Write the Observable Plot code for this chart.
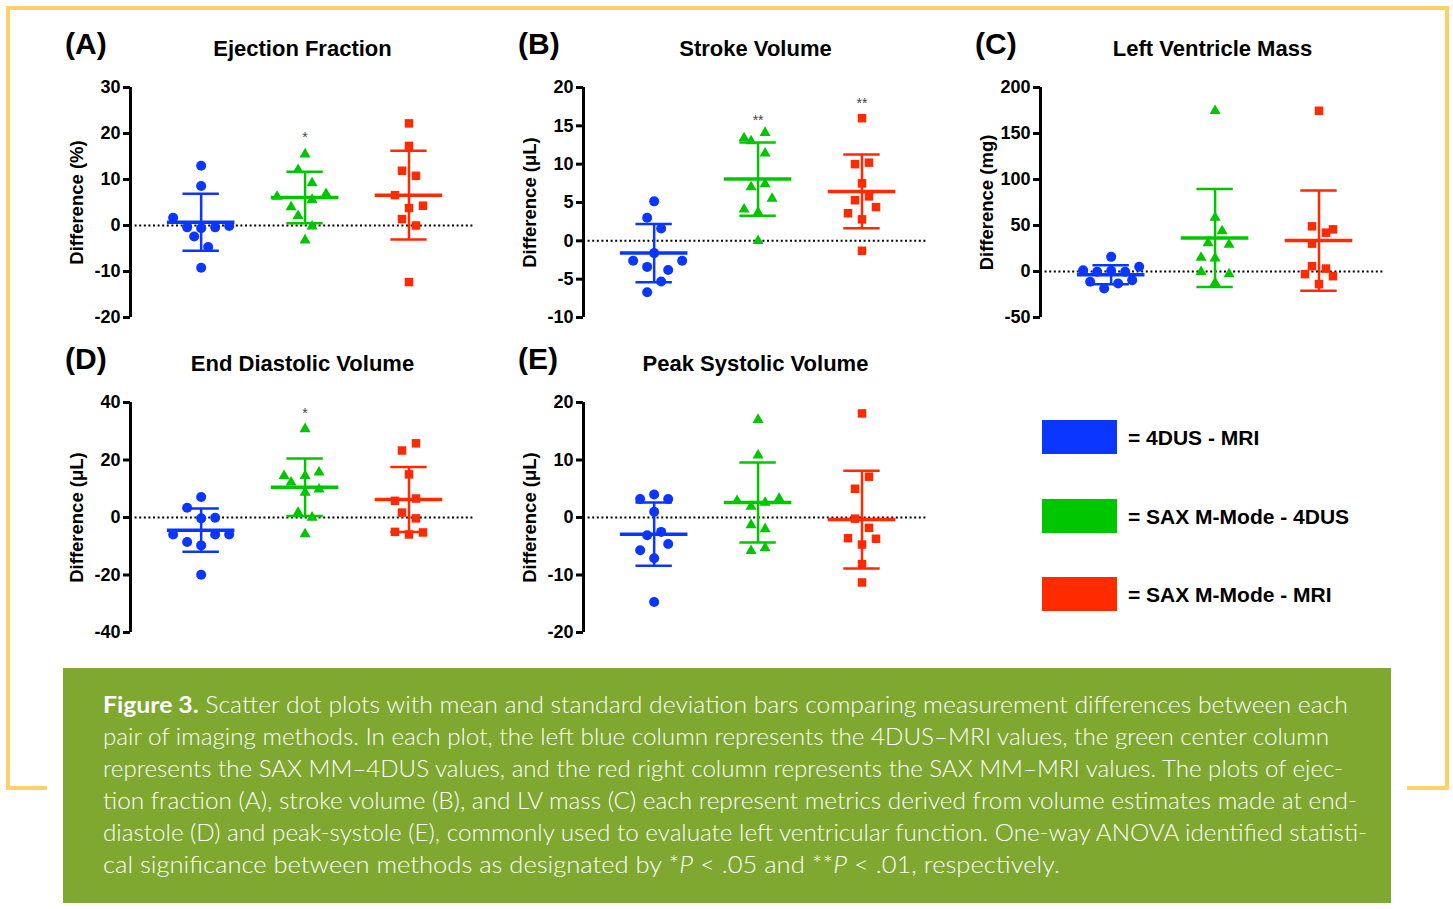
<!DOCTYPE html>
<html><head><meta charset="utf-8">
<script src="https://cdn.jsdelivr.net/npm/d3@7"></script>
<script src="https://cdn.jsdelivr.net/npm/@observablehq/plot@0.6"></script>
<style>
body{margin:0;background:#fff;}
#root{position:relative;width:1453px;height:909px;overflow:hidden;font-family:"Liberation Sans",Arial,sans-serif;color:#000;}
.bl{position:absolute;background:#fdd06c;}
.abs{position:absolute;}
.plabel{position:absolute;font-weight:bold;font-size:30px;line-height:30px;white-space:nowrap;}
.ptitle{position:absolute;font-weight:bold;font-size:22px;line-height:22px;text-align:center;white-space:nowrap;}
.legrect{position:absolute;width:75px;height:34px;}
.legtext{position:absolute;font-weight:bold;font-size:21px;line-height:21px;white-space:nowrap;}
</style></head><body><div id="root"></div>
<script>
// ---------- data ----------
const GROUPS = ["4DUS - MRI", "SAX M-Mode - 4DUS", "SAX M-Mode - MRI"];
const COLORS = ["#0a36ff", "#00c600", "#ff2a00"];

const panelLetters = ["(A)", "(B)", "(C)", "(D)", "(E)"];
const panelTitles = ["Ejection Fraction", "Stroke Volume", "Left Ventricle Mass", "End Diastolic Volume", "Peak Systolic Volume"];
const panelYLabels = ["Difference (%)", "Difference (\u03bcL)", "Difference (mg)", "Difference (\u03bcL)", "Difference (\u03bcL)"];

// (A) Ejection Fraction
const efValues = [
  [13.0, 8.6, 1.7, -0.4, -0.6, -0.4, -0.1, -2.4, -4.7, -9.2],
  [15.5, 12.1, 6.3, 9.2, 6.9, 5.6, 4.0, 2.1, -0.2, -3.2],
  [22.2, 17.3, 11.9, 10.8, 6.6, 3.8, 4.3, 1.4, 0.0, -12.3]];
const efSlots = [[0,0,-4,-2,0,2,4,-1,1,0],[0,-1,-4,1,3,1,-2,-1,1,0],[0,0,-1,1,-2,0,2,-1,1,0]];
const efMean = [0.7, 6.1, 6.6];
const efSD = [6.2, 5.6, 9.65];
const efStars = ["", "*", ""];
const efStarY = [0, 20.1, 0];
const efTicks = [-20, -10, 0, 10, 20, 30];

// (B) Stroke Volume
const svValues = [
  [5.15, 3.0, 1.6, -1.6, -2.6, -2.6, -3.4, -3.8, -5.3, -6.7],
  [13.4, 13.0, 14.1, 11.4, 7.0, 7.4, 5.5, 4.1, 3.7, 0.0],
  [16.0, 10.0, 10.2, 7.5, 5.3, 5.8, 3.6, 4.4, 2.8, -1.3]];
const svSlots = [[0,-1,1,0,-3,4,-1,2,1,-1],[-2,-1,1,1,-1,1,2,-2,0,0],[0,-1,1,0,-1,1,-2,2,0,0]];
const svMean = [-1.6, 8.05, 6.45];
const svSD = [3.8, 4.78, 4.8];
const svStars = ["", "**", "**"];
const svStarY = [0, 16.2, 18.4];
const svTicks = [-10, -5, 0, 5, 10, 15, 20];

// (C) Left Ventricle Mass
const lvmValues = [
  [15.9, 1.4, -0.4, 0.7, -0.4, 5.1, -11.2, -9.4, -13.0, -18.4],
  [174.7, 58.5, 44.0, 31.0, 29.2, 15.2, 14.4, -0.4, -2.9, -12.3],
  [174.7, 49.1, 42.2, 45.8, 30.3, 5.8, 3.2, -2.9, -5.1, -13.7]];
const lvmSlots = [[0,-4,-2,0,2,4,-3,3,1,-1],[0,0,1,-1,2,-2,0,-2,2,0],[0,-1,1,2,-1,-1,1,-2,2,0]];
const lvmMean = [-3.6, 36.5, 33.6];
const lvmSD = [10.3, 53.25, 54.5];
const lvmStars = ["", "", ""];
const lvmStarY = [0, 0, 0];
const lvmTicks = [-50, 0, 50, 100, 150, 200];

// (D) End Diastolic Volume
const edvValues = [
  [7.1, 3.4, -0.3, -0.1, -5.9, -5.9, -5.9, -8.5, -9.7, -19.9],
  [30.8, 14.5, 12.2, 14.5, 15.7, 9.8, 8.7, 1.7, 0.0, -5.8],
  [23.3, 25.8, 15.0, 5.8, 6.6, 1.7, -0.3, -5.0, -5.9, -5.2]];
const edvSlots = [[0,-2,0,2,-4,2,4,-2,0,0],[0,-3,-2,0,2,2,0,-1,1,0],[-1,1,0,-2,1,-1,1,-2,0,2]];
const edvMean = [-4.4, 10.5, 6.3];
const edvSD = [7.5, 10.0, 11.3];
const edvStars = ["", "*", ""];
const edvStarY = [0, 37.4, 0];
const edvTicks = [-40, -20, 0, 20, 40];

// (E) Peak Systolic Volume
const psvValues = [
  [4.0, 3.2, 3.2, 1.0, -2.5, -3.1, -4.6, -5.7, -7.1, -14.7],
  [17.0, 10.8, 2.9, 2.6, 3.3, 1.9, -1.3, -2.0, -5.3, -5.8],
  [18.1, 7.1, 5.0, -0.2, -1.8, -3.6, -3.7, -4.7, -8.1, -11.3]];
const psvSlots = [[0,-2,2,0,1,-1,2,-2,0,0],[0,0,-3,1,3,-1,-1,1,1,-1],[0,1,-1,-1,1,-2,2,0,0,0]];
const psvMean = [-2.9, 2.6, -0.35];
const psvSD = [5.5, 6.95, 8.5];
const psvStars = ["", "", ""];
const psvStarY = [0, 0, 0];
const psvTicks = [-20, -10, 0, 10, 20];

const captionLines = [
  ["<tspan font-weight='bold'>Figure 3.</tspan> Scatter dot plots with mean and standard deviation bars comparing measurement differences between each", 1245],
  ["pair of imaging methods. In each plot, the left blue column represents the 4DUS\u2013MRI values, the green center column", 1226],
  ["represents the SAX MM\u20134DUS values, and the red right column represents the SAX MM\u2013MRI values. The plots of ejec-", 1240],
  ["tion fraction (A), stroke volume (B), and LV mass (C) each represent metrics derived from volume estimates made at end-", 1254],
  ["diastole (D) and peak-systole (E), commonly used to evaluate left ventricular function. One-way ANOVA identified statisti-", 1264],
  ["cal significance between methods as designated by *<tspan font-style='italic'>P</tspan> &lt; .05 and **<tspan font-style='italic'>P</tspan> &lt; .01, respectively.", 957]
];

// ---------- layout ----------
const root = document.getElementById("root");
function div(cls, css, html) {
  const d = document.createElement("div");
  d.className = cls;
  Object.assign(d.style, css);
  if (html !== undefined) d.innerHTML = html;
  root.appendChild(d);
  return d;
}
// orange frame
div("bl", {left:"6px", top:"6px", width:"1443px", height:"4px"});
div("bl", {left:"6px", top:"6px", width:"4px", height:"784px"});
div("bl", {left:"1445px", top:"6px", width:"4px", height:"784px"});
div("bl", {left:"6px", top:"786px", width:"41px", height:"4px"});
div("bl", {left:"1407px", top:"786px", width:"42px", height:"4px"});

const SLOT = 0.0674, HALF_MEAN = 0.325, HALF_CAP = 0.175;
const XDOM = [-0.68, 2.64];
const FONT = "'Liberation Sans', Arial, sans-serif";

function makePanel(k, axX, topY, values, slots, means, sds, stars, starY, ticks) {
  const yDomain = [ticks[0], ticks[ticks.length - 1]];
  const pts = [0, 1, 2].map(g => values[g].map((v, j) => ({x: g + slots[g][j] * SLOT, y: v})));
  const stats = means.map((m, g) => ({g, m, lo: m - sds[g], hi: m + sds[g], c: COLORS[g]}));
  const starData = stars.map((t, g) => ({g, t, y: starY[g]})).filter(d => d.t);
  const svg = Plot.plot({
    width: 420, height: 255, marginLeft: 70, marginRight: 5, marginTop: 12, marginBottom: 13,
    x: {domain: XDOM, axis: null},
    y: {domain: yDomain, axis: null},
    color: {type: "identity"},
    style: {fontFamily: FONT, background: "transparent", overflow: "visible", color: "#000"},
    marks: [
      Plot.ruleY([0], {stroke: "#000", strokeWidth: 2, strokeDasharray: "2,2.6"}),
      Plot.axisY({ticks, tickSize: 7, tickPadding: 3, strokeWidth: 3, fontSize: 18, fontWeight: "bold", tickFormat: d => String(d), label: null}),
      Plot.ruleX([XDOM[0]], {y1: yDomain[0], y2: yDomain[1], stroke: "#000", strokeWidth: 3}),
      Plot.text([panelYLabels[k]], {text: d => d, frameAnchor: "left", textAnchor: "middle", lineAnchor: "middle", rotate: -90, dx: -53, fontSize: 18.5, fontWeight: "bold", fill: "#000"}),
      Plot.dot(pts[0], {x: "x", y: "y", r: 5, fill: COLORS[0], stroke: "none", symbol: "circle"}),
      Plot.dot(pts[1], {x: "x", y: "y", r: 4.1, fill: COLORS[1], stroke: "none", symbol: "triangle"}),
      Plot.dot(pts[2], {x: "x", y: "y", r: 4.8, fill: COLORS[2], stroke: "none", symbol: "square"}),
      Plot.ruleX(stats, {x: "g", y1: "lo", y2: "hi", stroke: "c", strokeWidth: 2.5}),
      Plot.ruleY(stats, {y: "hi", x1: d => d.g - HALF_CAP, x2: d => d.g + HALF_CAP, stroke: "c", strokeWidth: 2.5}),
      Plot.ruleY(stats, {y: "lo", x1: d => d.g - HALF_CAP, x2: d => d.g + HALF_CAP, stroke: "c", strokeWidth: 2.5}),
      Plot.ruleY(stats, {y: "m", x1: d => d.g - HALF_MEAN, x2: d => d.g + HALF_MEAN, stroke: "c", strokeWidth: 3.5}),
      Plot.text(starData, {x: "g", y: "y", text: "t", fontSize: 14, fill: "#444", dy: 4})
    ]
  });
  svg.style.position = "absolute";
  svg.style.left = (axX - 70) + "px";
  svg.style.top = (topY - 12) + "px";
  root.appendChild(svg);
  div("plabel", {left: (axX - 65) + "px", top: (topY - 58) + "px"}, panelLetters[k]);
  div("ptitle", {left: axX + "px", width: "345px", top: (topY - 49) + "px"}, panelTitles[k]);
}

makePanel(0, 130, 87, efValues, efSlots, efMean, efSD, efStars, efStarY, efTicks);
makePanel(1, 583, 87, svValues, svSlots, svMean, svSD, svStars, svStarY, svTicks);
makePanel(2, 1040, 87, lvmValues, lvmSlots, lvmMean, lvmSD, lvmStars, lvmStarY, lvmTicks);
makePanel(3, 130, 402, edvValues, edvSlots, edvMean, edvSD, edvStars, edvStarY, edvTicks);
makePanel(4, 583, 402, psvValues, psvSlots, psvMean, psvSD, psvStars, psvStarY, psvTicks);

// legend
const legTops = [420, 499, 577];
GROUPS.forEach((g, i) => {
  div("legrect", {left: "1042px", top: legTops[i] + "px", background: COLORS[i]});
  div("legtext", {left: "1128px", top: (legTops[i] + 7) + "px"}, "= " + g);
});

// caption
const cap = div("abs", {left: "63px", top: "668px", width: "1328px", height: "235px", background: "#7ea830"});
const ns = "http://www.w3.org/2000/svg";
const csvg = document.createElementNS(ns, "svg");
csvg.setAttribute("width", 1328); csvg.setAttribute("height", 235);
csvg.style.position = "absolute"; csvg.style.left = "0"; csvg.style.top = "0";
csvg.innerHTML = captionLines.map((l, i) =>
  `<text x="40" y="${45 + 32 * i}" fill="#fff" font-family="Lato, 'Open Sans', sans-serif" font-weight="300" font-size="23" textLength="${l[1]}" lengthAdjust="spacingAndGlyphs">${l[0]}</text>`).join("");
cap.appendChild(csvg);
</script></body></html>
